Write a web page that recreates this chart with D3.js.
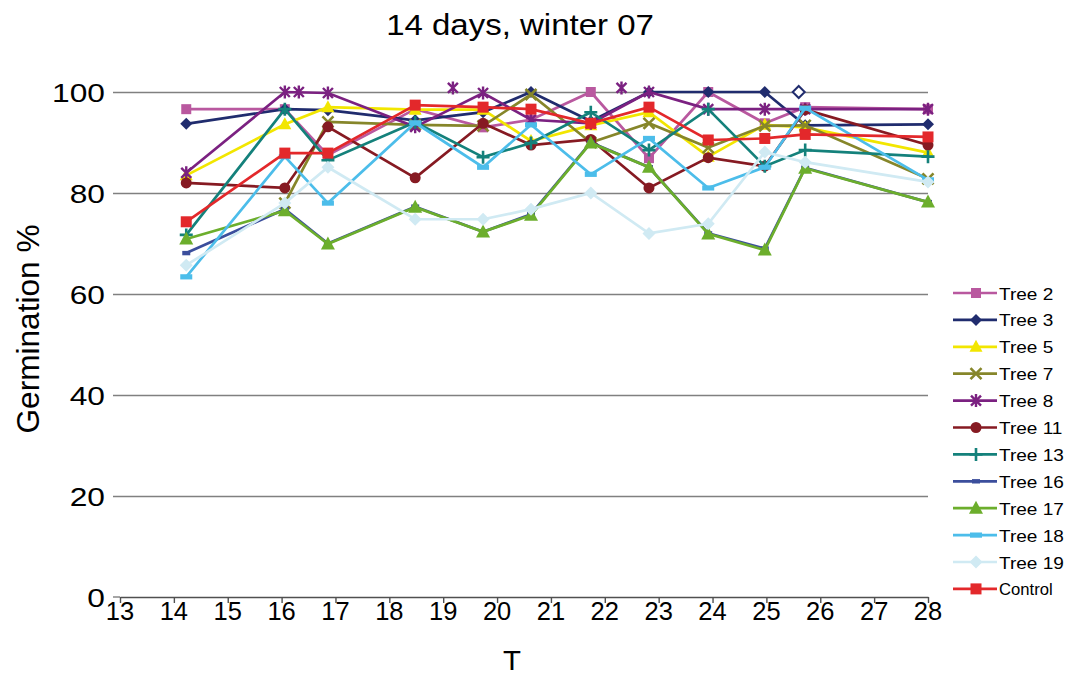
<!DOCTYPE html>
<html><head><meta charset="utf-8">
<script src="https://cdn.jsdelivr.net/npm/d3@7"></script>
<style>body{margin:0;background:#fff} text{font-family:"Liberation Sans",Arial,sans-serif;fill:#000}</style>
</head><body>
<svg id="c" width="1074" height="676"></svg>
<script>
// ---- data ----
const T = [14.23, 16.06, 16.86, 18.48, 19.74, 20.63, 21.74, 22.82, 23.92, 24.97, 25.72, 28.0];
const tree2   = [96.6, 96.6, 87.5, 96.6, 93.0, 94.5, 100, 86.9, 100, 93.8, 97.0, 96.6];
const tree3   = [93.7, 96.6, 96.4, 94.4, 96.0, 100, 94.2, 100, 100, 100, 93.4, 93.6];
const tree5   = [83.5, 93.6, 97.0, 96.5, 96.5, 90.3, 93.4, 96.0, 87.2, 93.5, 93.0, 88.0];
const tree7   = [null, 78.0, 94.1, 93.5, 93.3, 99.5, 90.0, 93.8, 89.0, 93.3, 93.4, 82.8];
const tree8   = [84.0, 100, 99.8, 93.1, 99.8, 94.5, 93.8, 100, 96.6, 96.6, 96.6, 96.6];
const tree11  = [82.0, 81.0, 93.1, 83.0, 93.8, 89.5, 90.6, 81.0, 87.0, 85.3, 96.5, 89.5];
const tree13  = [71.7, 96.6, 86.5, 94.0, 87.1, 89.9, 96.0, 88.5, 96.6, 85.3, 88.5, 87.2];
const tree16  = [68.1, 76.8, 70.0, 77.3, 72.3, 75.8, 90.0, 85.1, 72.0, 69.0, 85.0, 78.2];
const tree17  = [70.9, 76.5, 69.9, 77.2, 72.3, 75.6, 89.9, 85.1, 71.9, 68.7, 84.9, 78.2];
const tree18  = [63.4, 87.2, 78.0, 93.9, 85.1, 93.5, 83.7, 90.8, 81.0, 85.1, 96.8, 82.6];
const tree19  = [65.7, 78.0, 85.1, 74.8, 74.8, 76.8, 80.0, 72.0, 73.9, 88.1, 86.1, 82.2];
const control = [74.3, 87.9, 87.9, 97.4, 97.0, 96.6, 93.8, 97.0, 90.5, 90.8, 91.6, 91.1];
const seriesNames = ["Tree 2","Tree 3","Tree 5","Tree 7","Tree 8","Tree 11","Tree 13","Tree 16","Tree 17","Tree 18","Tree 19","Control"];
const seriesValues = [tree2,tree3,tree5,tree7,tree8,tree11,tree13,tree16,tree17,tree18,tree19,control];
// stray markers visible near the top
const strayT8 = [16.32, 19.18, 22.31];
const strayV8 = [100, 100.8, 100.8];
const strayT3 = [25.6];
const strayV3 = [100];
const xTicks = d3.range(13, 29);
const yTicks = [0, 20, 40, 60, 80, 100];
const title = "14 days, winter 07";
const xTitle = "T";
const yTitle = "Germination %";

// ---- styles ----
const colors = ["#B9589F","#202C6E","#F2E600","#86862A","#7B2181","#861A22","#14817B","#3B4E9C","#6CAE2C","#4CBDEA","#D0EAF3","#E3282B"];
const markers = ["square","diamond","triangle","x","asterisk","circle","plus","dashS","triangleL","dashL","diamondL","squareL"];

const svg = d3.select("#c");
const x = d3.scaleLinear().domain([13, 28]).range([120, 928]);
const y = d3.scaleLinear().domain([0, 100]).range([597, 92]);
const SX = 1.22;

function stext(g, str, px, py, size, anchor, sx, rot) {
  return g.append("text")
    .attr("transform", `translate(${px},${py})${rot ? ` rotate(${rot})` : ""} scale(${sx},1)`)
    .attr("text-anchor", anchor).style("font-size", size + "px").text(str);
}

// gridlines
const gy = svg.append("g").attr("transform", "translate(113,0)")
  .call(d3.axisLeft(y).tickValues(yTicks.filter(v => v > 0)).tickSize(-815).tickFormat(""));
gy.select(".domain").remove();
gy.selectAll("line").attr("stroke", "#808080").attr("stroke-width", 1.4);
svg.append("line").attr("x1", 113).attr("x2", 120).attr("y1", y(0)).attr("y2", y(0)).attr("stroke", "#808080").attr("stroke-width", 1.4);

// x axis
const gx = svg.append("g").attr("transform", `translate(0,${y(0)})`)
  .call(d3.axisBottom(x).tickValues(xTicks).tickSize(6).tickSizeOuter(0).tickFormat(""));
gx.select(".domain").attr("stroke", "#505050").attr("stroke-width", 1.6);
gx.selectAll("line").attr("stroke", "#505050").attr("stroke-width", 1.4);

// tick labels
yTicks.forEach(v => stext(svg, String(v), 105, y(v) + 9.5, 26, "end", SX));
xTicks.forEach(v => stext(svg, String(v), x(v), 620, 25, "middle", 1.02));

// titles
stext(svg, title, 520, 35, 30, "middle", 1.1);
stext(svg, xTitle, 512, 670, 28, "middle", 1.05);
stext(svg, yTitle, 39, 329, 31, "middle", 1.02, -90);

// markers
function drawMarker(g, type, cx, cy, color, hollow) {
  const m = g.append("g").attr("transform", `translate(${cx},${cy})`);
  switch (type) {
    case "square": m.append("rect").attr("x", -5).attr("y", -5).attr("width", 10).attr("height", 10).attr("fill", color); break;
    case "squareL": m.append("rect").attr("x", -5.5).attr("y", -5.5).attr("width", 11).attr("height", 11).attr("fill", color); break;
    case "diamond": m.append("path").attr("d", "M0,-6L6,0L0,6L-6,0Z").attr("fill", hollow ? "#fff" : color).attr("stroke", hollow ? color : "none").attr("stroke-width", 2); break;
    case "diamondL": m.append("path").attr("d", "M0,-6.5L6.5,0L0,6.5L-6.5,0Z").attr("fill", color); break;
    case "triangle": m.append("path").attr("d", "M0,-7L6.5,5L-6.5,5Z").attr("fill", color); break;
    case "triangleL": m.append("path").attr("d", "M0,-7.5L7,5.5L-7,5.5Z").attr("fill", color); break;
    case "x": m.append("path").attr("d", "M-5.5,-5.5L5.5,5.5M5.5,-5.5L-5.5,5.5").attr("stroke", color).attr("stroke-width", 2.6).attr("fill", "none"); break;
    case "asterisk": m.append("path").attr("d", "M-5,-5L5,5M5,-5L-5,5M0,-6.5L0,6.5").attr("stroke", color).attr("stroke-width", 2.4).attr("fill", "none"); break;
    case "circle": m.append("circle").attr("r", 5.5).attr("fill", color); break;
    case "plus": m.append("path").attr("d", "M-6.5,0L6.5,0M0,-6.5L0,6.5").attr("stroke", color).attr("stroke-width", 2.6).attr("fill", "none"); break;
    case "dashS": m.append("rect").attr("x", -4).attr("y", -2.2).attr("width", 8).attr("height", 4.4).attr("fill", color); break;
    case "dashL": m.append("rect").attr("x", -6).attr("y", -2.6).attr("width", 12).attr("height", 5.2).attr("fill", color); break;
  }
}

const line = d3.line().defined(d => d[1] != null).x(d => x(d[0])).y(d => y(d[1]));
const plot = svg.append("g");
seriesValues.forEach((vals, i) => {
  const pts = T.map((t, j) => [t, vals[j]]);
  const g = plot.append("g");
  g.append("path").attr("d", line(pts)).attr("fill", "none").attr("stroke", colors[i]).attr("stroke-width", 2.7).attr("stroke-linejoin", "miter");
  pts.filter(p => p[1] != null).forEach(p => drawMarker(g, markers[i], x(p[0]), y(p[1]), colors[i]));
  if (i === 1) strayT3.forEach((t, k) => drawMarker(g, "diamond", x(t), y(strayV3[k]), colors[1], true));
  if (i === 4) strayT8.forEach((t, k) => drawMarker(g, "asterisk", x(t), y(strayV8[k]), colors[4]));
});

// legend
const lg = svg.append("g");
seriesNames.forEach((name, i) => {
  const ry = 293 + i * 26.9;
  lg.append("line").attr("x1", 953).attr("x2", 997).attr("y1", ry).attr("y2", ry).attr("stroke", colors[i]).attr("stroke-width", 2.7);
  drawMarker(lg, markers[i], 976, ry, colors[i]);
  stext(lg, name, 999, ry + 6.5, 17, "start", name === "Control" ? 0.98 : 1.12);
});
</script>
</body></html>
